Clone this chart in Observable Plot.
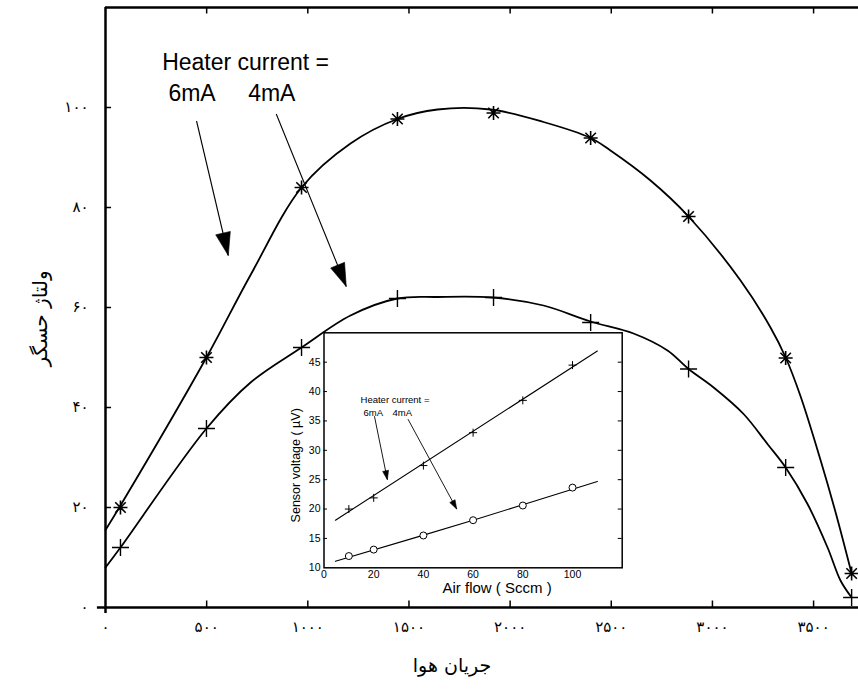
<!DOCTYPE html>
<html><head><meta charset="utf-8">
<script src="https://cdn.jsdelivr.net/npm/d3@7"></script>
<script src="https://cdn.jsdelivr.net/npm/@observablehq/plot@0.6"></script>
<style>
body{margin:0;background:#fff}
#wrap{position:relative;width:858px;height:696px;overflow:hidden;background:#fff}
#wrap svg{position:absolute}
</style>
</head><body><div id="wrap"></div>
<script>
// ---------- main chart data ----------
const xTicks = [0, 500, 1000, 1500, 2000, 2500, 3000, 3500];
const yTicks = [0, 20, 40, 60, 80, 100];
const faDigits = "۰۱۲۳۴۵۶۷۸۹";
const toFa = n => String(n).replace(/\d/g, d => faDigits[d]);

const markerFlow = [74, 499, 969, 1443, 1918, 2398, 2882, 3362, 3688];
const volt6mA = [20, 50, 84, 97.7, 98.9, 93.9, 78.2, 49.9, 6.8];
const volt4mA = [12, 35.8, 52, 61.8, 62, 57, 47.7, 28, 2];

const fit6Flow = [0, 74, 499, 717, 969, 1211, 1443, 1641, 1903, 2165, 2398, 2496, 2694, 2882, 3139, 3287, 3362, 3436, 3535, 3609, 3688];
const fit6Volt = [15.5, 20.4, 50, 66.5, 84, 92.8, 97.7, 99.6, 99.6, 97.1, 93.9, 91.4, 85.4, 78.2, 65.4, 56, 50, 42.2, 29.4, 19, 6.8];
const fit4Flow = [0, 74, 499, 717, 969, 1211, 1443, 1641, 1913, 2165, 2398, 2610, 2778, 2882, 3006, 3154, 3272, 3362, 3470, 3569, 3633, 3688];
const fit4Volt = [8, 12, 35.8, 45, 52, 58.4, 61.8, 62.1, 62, 60.4, 57.2, 54.8, 51.4, 47.7, 44, 38.7, 32.7, 28, 20.7, 12, 5.4, 2];

const yLabel = "ولتاژ حسگر";
const xLabel = "جریان هوا";
const mainNotes = [
  {x: 280, y: 108.9, t: "Heater current ="},
  {x: 311, y: 102.8, t: "6mA"},
  {x: 705, y: 102.8, t: "4mA"}
];
const mainArrows = [
  {x1: 450, y1: 97.3, x2: 607, y2: 70.4},
  {x1: 844, y1: 98.7, x2: 1190, y2: 64.2}
];

// ---------- inset data ----------
const inFlow = [10, 20, 40, 60, 80, 100];
const inVolt6 = [20, 21.9, 27.4, 33, 38.5, 44.5];
const inVolt4 = [12, 13.1, 15.5, 18.1, 20.6, 23.65];
const inFit6Flow = [4.6, 110];
const inFit6Volt = [18.1, 46.9];
const inFit4Flow = [4.6, 60, 110];
const inFit4Volt = [11.1, 18.1, 24.7];
const inXTicks = [0, 20, 40, 60, 80, 100];
const inYTicks = [10, 15, 20, 25, 30, 35, 40, 45];
const inXLabel = "Air flow ( Sccm )";
const inYLabel = "Sensor voltage ( µV)";
const inNotes = [
  {x: 14.7, y: 38.5, t: "Heater current ="},
  {x: 15.9, y: 36.3, t: "6mA"},
  {x: 27.6, y: 36.3, t: "4mA"}
];
const inArrows = [
  {x1: 20.3, y1: 35.8, x2: 25.5, y2: 25.0},
  {x1: 33.8, y1: 35.3, x2: 53.4, y2: 20.0}
];

// ---------- helpers ----------
const pts = (xs, ys) => xs.map((x, i) => ({x, y: ys[i]}));
const starSym = {draw(c, size) {
  const r = Math.sqrt(size / Math.PI), d = r * 0.75;
  c.moveTo(0, -r); c.lineTo(0, r);
  c.moveTo(-r, 0); c.lineTo(r, 0);
  c.moveTo(-d, -d); c.lineTo(d, d);
  c.moveTo(-d, d); c.lineTo(d, -d);
}};
const plusSym = {draw(c, size) {
  const r = Math.sqrt(size / Math.PI);
  c.moveTo(0, -r); c.lineTo(0, r);
  c.moveTo(-r, 0); c.lineTo(r, 0);
}};
function headSym(p1, p2, L, W) {
  const dx = p2[0] - p1[0], dy = p2[1] - p1[1], len = Math.hypot(dx, dy);
  const ux = dx / len, uy = dy / len, nx = -uy, ny = ux;
  return {draw(c) {
    const bx = -ux * L, by = -uy * L;
    c.moveTo(0, 0);
    c.lineTo(bx + nx * W, by + ny * W);
    c.lineTo(bx - nx * W, by - ny * W);
    c.closePath();
  }};
}
function arrowMarks(arrows, sx, sy, L, W, sw) {
  return arrows.flatMap(a => {
    const p1 = [sx.apply(a.x1), sy.apply(a.y1)], p2 = [sx.apply(a.x2), sy.apply(a.y2)];
    return [
      Plot.link([a], {x1: "x1", y1: "y1", x2: "x2", y2: "y2", stroke: "black", strokeWidth: sw}),
      Plot.dot([a], {x: "x2", y: "y2", symbol: headSym(p1, p2, L, W), r: 5, fill: "black", stroke: "black", strokeWidth: 0.6})
    ];
  });
}

// ---------- main plot ----------
const W = 858, H = 696, mL = 105, mR = 0, mT = 7, mB = 89;
const xDom = [0, 3722], yDom = [0, 120];
const sx = Plot.scale({x: {domain: xDom, range: [mL, W - mR]}});
const sy = Plot.scale({y: {domain: yDom, range: [H - mB, mT]}});
const latin = "Liberation Sans, Arial, Helvetica, sans-serif";

const main = Plot.plot({
  width: W, height: H,
  marginLeft: mL, marginRight: mR, marginTop: mT, marginBottom: mB,
  style: {background: "white", color: "black", fontFamily: "DejaVu Sans", fontSize: "15px"},
  x: {domain: xDom, ticks: xTicks, tickFormat: toFa, tickSize: 0, tickPadding: 14, label: null},
  y: {domain: yDom, ticks: yTicks, tickFormat: toFa, tickSize: 0, tickPadding: 17, label: null},
  marks: [
    Plot.ruleX([0], {y1: -1.2, y2: 120, stroke: "black", strokeWidth: 2.5}),
    Plot.ruleY([0], {x1: -40, x2: xDom[1], stroke: "black", strokeWidth: 2.5}),
    Plot.ruleY([120], {x1: 0, x2: xDom[1], stroke: "black", strokeWidth: 2.5}),
    Plot.ruleX(xTicks.slice(1), {y1: 0, y2: 1.3, stroke: "black", strokeWidth: 1.5}),
    Plot.ruleX(xTicks.slice(1), {y1: 118.7, y2: 120, stroke: "black", strokeWidth: 1.5}),
    Plot.ruleY(yTicks.slice(1), {x1: 0, x2: 30, stroke: "black", strokeWidth: 1.5}),
    Plot.line(pts(fit6Flow, fit6Volt), {x: "x", y: "y", curve: "catmull-rom", stroke: "black", strokeWidth: 1.8}),
    Plot.line(pts(fit4Flow, fit4Volt), {x: "x", y: "y", curve: "catmull-rom", stroke: "black", strokeWidth: 1.8}),
    Plot.dot(pts(markerFlow, volt6mA), {x: "x", y: "y", symbol: starSym, r: 7, fill: "none", stroke: "black", strokeWidth: 1.6}),
    Plot.dot(pts(markerFlow, volt4mA), {x: "x", y: "y", symbol: plusSym, r: 8.5, fill: "none", stroke: "black", strokeWidth: 1.4}),
    ...arrowMarks(mainArrows, sx, sy, 23, 7.5, 1.1),
    Plot.text(mainNotes, {x: "x", y: "y", text: "t", textAnchor: "start", fontSize: 23, fontFamily: latin, fill: "black"}),
    Plot.text([yLabel], {text: d => d, frameAnchor: "left", textAnchor: "middle", dx: -65, dy: 11, rotate: -90, fontSize: 20, fontFamily: "DejaVu Sans", fill: "black"}),
    Plot.text([xLabel], {text: d => d, frameAnchor: "bottom", textAnchor: "middle", dx: -30, dy: 64, fontSize: 19, fontFamily: "DejaVu Sans", fill: "black"})
  ]
});
main.style.left = "0px"; main.style.top = "0px";
document.getElementById("wrap").appendChild(main);

// ---------- inset plot ----------
const iW = 360, iH = 290, iL = 53.5, iR = 8.3, iT = 7.3, iB = 47.7;
const ixDom = [0, 120], iyDom = [10, 50];
const sxi = Plot.scale({x: {domain: ixDom, range: [iL, iW - iR]}});
const syi = Plot.scale({y: {domain: iyDom, range: [iH - iB, iT]}});

const inset = Plot.plot({
  width: iW, height: iH,
  marginLeft: iL, marginRight: iR, marginTop: iT, marginBottom: iB,
  style: {background: "transparent", color: "black", fontFamily: latin, fontSize: "10.5px", overflow: "visible"},
  x: {domain: ixDom, ticks: inXTicks, tickSize: 0, tickPadding: 3, label: null},
  y: {domain: iyDom, ticks: inYTicks, tickSize: 0, tickPadding: 3.5, label: null},
  marks: [
    Plot.frame({stroke: "black", strokeWidth: 1.5}),
    Plot.ruleY(inYTicks.slice(1), {x1: 0, x2: 1.4, stroke: "black", strokeWidth: 1}),
    Plot.ruleY(inYTicks.slice(1), {x1: 118.4, x2: 120, stroke: "black", strokeWidth: 1}),
    Plot.line(pts(inFit6Flow, inFit6Volt), {x: "x", y: "y", stroke: "black", strokeWidth: 1.1}),
    Plot.line(pts(inFit4Flow, inFit4Volt), {x: "x", y: "y", curve: "catmull-rom", stroke: "black", strokeWidth: 1.1}),
    Plot.dot(pts(inFlow, inVolt6), {x: "x", y: "y", symbol: plusSym, r: 4, fill: "none", stroke: "black", strokeWidth: 1}),
    Plot.dot(pts(inFlow, inVolt4), {x: "x", y: "y", symbol: "circle", r: 3.5, fill: "white", stroke: "black", strokeWidth: 1}),
    ...arrowMarks(inArrows, sxi, syi, 9, 3, 0.9),
    Plot.text(inNotes, {x: "x", y: "y", text: "t", textAnchor: "start", fontSize: 9.5, fontFamily: latin, fill: "black"}),
    Plot.text([inYLabel], {text: d => d, frameAnchor: "left", textAnchor: "middle", dx: -28.5, dy: 15, rotate: -90, fontSize: 12.5, fontFamily: latin, fill: "black"}),
    Plot.text([inXLabel], {text: d => d, frameAnchor: "bottom", textAnchor: "middle", dx: 24, dy: 25, fontSize: 15, fontFamily: latin, fill: "black"})
  ]
});
inset.style.left = "270px"; inset.style.top = "325px";
document.getElementById("wrap").appendChild(inset);
</script></body></html>
